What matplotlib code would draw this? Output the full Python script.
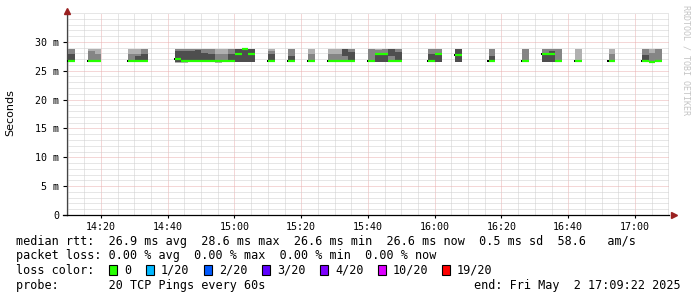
import matplotlib
matplotlib.use("Agg")
import matplotlib.pyplot as plt
from matplotlib.patches import Rectangle
from matplotlib.ticker import MultipleLocator, FuncFormatter

# smokeping cells (2 min steps), rtt values in ms
cell_time = ["14:10", "14:16", "14:18", "14:28", "14:30", "14:32",
             "14:42", "14:44", "14:46", "14:48", "14:50", "14:52",
             "14:54", "14:56", "14:58", "15:00", "15:02", "15:04",
             "15:10", "15:16", "15:22", "15:28", "15:30", "15:32", "15:34",
             "15:40", "15:42", "15:44", "15:46", "15:48", "15:58", "16:00",
             "16:06", "16:16", "16:26",
             "16:32", "16:34", "16:36", "16:42", "16:52", "17:02", "17:04", "17:06"]
rtt_min = [26.55, 26.5, 26.5, 26.55, 26.55, 26.55,
           26.35, 26.4, 26.5, 26.5, 26.5, 26.5,
           26.4, 26.5, 26.5, 26.55, 26.55, 26.55,
           26.55, 26.55, 26.55, 26.55, 26.5, 26.55, 26.55,
           26.55, 26.55, 26.55, 26.55, 26.55, 26.5, 26.55,
           26.55, 26.55, 26.55,
           26.55, 26.55, 26.55, 26.55, 26.45, 26.55, 26.4, 26.55]
rtt_max = [28.8] * len(cell_time)
# inner smoke band (middle pings)
band_lo = [26.55, 26.55, 26.55, 26.55, 26.55, 26.55,
           26.5, 26.5, 26.55, 26.55, 26.55, 26.55,
           26.5, 26.55, 26.55, 26.55, 26.55, 26.55,
           26.55, 26.55, 26.55, 26.55, 26.55, 26.55, 26.55,
           26.55, 26.55, 26.55, 26.55, 26.55, 26.55, 26.55,
           26.55, 26.55, 26.55,
           26.55, 26.55, 26.55, 26.7, 26.5, 26.55, 26.5, 26.55]
band_hi = [28.8, 28.5, 27.9, 27.9, 27.9, 28.8,
           28.8, 28.8, 28.8, 28.8, 28.8, 28.8,
           27.9, 27.9, 28.8, 28.8, 28.8, 28.8,
           28.5, 28.8, 27.9, 27.9, 27.9, 28.8, 28.8,
           28.8, 28.6, 28.8, 28.8, 28.8, 28.8, 28.8,
           28.8, 28.8, 28.8,
           28.8, 28.8, 28.8, 26.7, 27.9, 28.8, 28.0, 28.8]
# densest part of the smoke
core_lo = [26.55, 26.6, 26.6, 26.7, 26.55, 26.55,
           26.55, 26.55, 26.55, 26.55, 26.55, 26.55,
           26.6, 26.6, 26.55, 26.55, 26.55, 26.55,
           26.55, 26.55, 26.6, 26.6, 26.6, 27.6, 26.55,
           26.6, 26.55, 26.55, 27.6, 26.55, 26.55, 26.55,
           26.55, 26.55, 26.6,
           26.55, 26.55, 26.6, 26.7, 26.6, 26.55, 26.5, 26.6]
core_hi = [27.9, 26.6, 26.6, 26.7, 27.6, 27.9,
           28.5, 28.4, 28.5, 28.6, 28.0, 27.9,
           26.6, 26.6, 27.9, 28.8, 28.8, 28.8,
           27.9, 27.6, 26.6, 26.6, 26.6, 28.8, 28.3,
           26.6, 27.8, 27.8, 28.8, 28.3, 27.9, 28.0,
           28.8, 27.6, 26.6,
           27.9, 28.5, 26.6, 26.7, 26.6, 27.8, 26.5, 26.6]
rtt_median = [26.75, 26.6, 26.6, 26.75, 26.75, 26.75,
              27.05, 26.7, 26.7, 26.7, 26.7, 26.7,
              26.6, 26.7, 26.7, 27.93, 28.75, 27.93,
              26.7, 26.7, 26.7, 26.7, 26.7, 26.7, 26.7,
              26.7, 27.9, 27.9, 26.7, 26.7, 26.65, 27.85,
              27.75, 26.7, 26.7,
              27.9, 27.9, 26.7, 26.7, 26.6, 26.7, 26.55, 26.7]

loss_labels = ["0", "1/20", "2/20", "3/20", "4/20", "10/20", "19/20"]
loss_colors = ["#26ff00", "#00b8ff", "#0059ff", "#5e00ff", "#7e00ff", "#dd00ff", "#ff0000"]

x_ticks = ["14:20", "14:40", "15:00", "15:20", "15:40", "16:00", "16:20", "16:40", "17:00"]
y_ticks = [0, 5, 10, 15, 20, 25, 30]

stat_avg, stat_max, stat_min, stat_now, stat_sd, stat_ams = 26.9, 28.6, 26.6, 26.6, 0.5, 58.6
loss_avg, loss_max, loss_min, loss_now = 0.0, 0.0, 0.0, 0.0
probe_text = "20 TCP Pings every 60s"
end_text = "end: Fri May  2 17:09:22 2025"


def to_min(s):
    h, m = s.split(":")
    return (int(h) - 14) * 60 + int(m)


W, H = 697, 297
mono = "DejaVu Sans Mono"
fig = plt.figure(figsize=(W / 100, H / 100), dpi=100)
ax = fig.add_axes([67 / W, (H - 215) / H, 602 / W, 202 / H])

step = 2.0
xs = [to_min(t) + 0.12 for t in cell_time]
ax.bar(xs, [b - a for a, b in zip(rtt_min, rtt_max)], bottom=rtt_min, width=step,
       align="edge", color="#b0b0b0", linewidth=0, zorder=2)
ax.bar(xs, [b - a for a, b in zip(band_lo, band_hi)], bottom=band_lo, width=step,
       align="edge", color="#858585", linewidth=0, zorder=3)
ax.bar(xs, [b - a for a, b in zip(core_lo, core_hi)], bottom=core_lo, width=step,
       align="edge", color="#4e4e4e", linewidth=0, zorder=4)
ax.hlines(rtt_median, xs, [x + step for x in xs], color=loss_colors[0], lw=1.6, zorder=5)

# little black median stub where a run of data starts
for i, x in enumerate(xs):
    if i == 0 or x - xs[i - 1] > step + 0.01:
        ax.hlines(rtt_median[i], x - 0.35, x, color="black", lw=1.4, zorder=5)

ax.set_xlim(9.82, 190.2)
ax.set_ylim(0, 35)
ax.set_xticks([to_min(t) for t in x_ticks])
ax.set_xticklabels(x_ticks)
ax.xaxis.set_minor_locator(MultipleLocator(5))
ax.set_yticks(y_ticks)
ax.yaxis.set_minor_locator(MultipleLocator(1))
ax.yaxis.set_major_formatter(FuncFormatter(lambda v, p: "0" if v == 0 else f"{v:.0f} m"))

ax.grid(which="minor", color="#cfcfcf", linestyle=(0, (1, 1)), lw=0.72)
ax.grid(which="major", color="#eab0b0", linestyle=(0, (1, 1)), lw=0.72)
ax.set_axisbelow(True)

for s in ["top", "right"]:
    ax.spines[s].set_visible(False)
ax.spines["left"].set_color("#444444")
ax.spines["bottom"].set_color("black")
ax.spines["left"].set_linewidth(0.9)
ax.spines["bottom"].set_linewidth(0.9)
ax.tick_params(axis="both", labelsize=7.2, colors="black")
ax.tick_params(axis="y", which="major", length=3, pad=2.5)
ax.tick_params(axis="y", which="minor", length=0)
ax.tick_params(axis="x", which="major", length=2, pad=3)
ax.tick_params(axis="x", which="minor", length=0)
for lab in ax.get_xticklabels() + ax.get_yticklabels():
    lab.set_family(mono)

# x axis runs a bit left of the y axis, rrdtool style arrows
ax.plot([-0.007, 0], [0, 0], color="black", lw=0.9, transform=ax.transAxes, clip_on=False)
ax.plot([0], [1.01], marker="^", ms=4, color="#9a2020", transform=ax.transAxes, clip_on=False, zorder=6)
ax.plot([1.008], [0], marker=">", ms=4, color="#9a2020", transform=ax.transAxes, clip_on=False, zorder=6)

fig.text(10 / W, 1 - 113 / H, "Seconds", rotation=90, ha="center", va="center", fontsize=8)
fig.text(686 / W, 1 - 60 / H, "RRDTOOL / TOBI OETIKER", rotation=270, ha="center", va="center",
         fontsize=6, family=mono, color="#c4c4c4")

row1 = (f"median rtt:  {stat_avg:.1f} ms avg  {stat_max:.1f} ms max  {stat_min:.1f} ms min  "
        f"{stat_now:.1f} ms now  {stat_sd:.1f} ms sd  {stat_ams:.1f}   am/s")
row2 = (f"packet loss: {loss_avg:.2f} % avg  {loss_max:.2f} % max  "
        f"{loss_min:.2f} % min  {loss_now:.2f} % now")
fs = 8.5
fig.text(16 / W, 1 - 241 / H, row1, family=mono, fontsize=fs, va="center")
fig.text(16 / W, 1 - 256 / H, row2, family=mono, fontsize=fs, va="center")
fig.text(16 / W, 1 - 270 / H, "loss color:", family=mono, fontsize=fs, va="center")
box_x = [109, 146, 204, 262, 320, 378, 442]
for bx, lab, col in zip(box_x, loss_labels, loss_colors):
    fig.patches.append(Rectangle((bx / W, 1 - 275 / H), 8 / W, 10 / H, facecolor=col,
                                 edgecolor="black", lw=0.8, transform=fig.transFigure))
    fig.text((bx + 15) / W, 1 - 270 / H, lab, family=mono, fontsize=fs, va="center")
fig.text(16 / W, 1 - 285 / H, "probe:       " + probe_text, family=mono, fontsize=fs, va="center")
fig.text(681 / W, 1 - 285 / H, end_text, family=mono, fontsize=fs, va="center", ha="right")

fig.savefig("out.png", dpi=100)
